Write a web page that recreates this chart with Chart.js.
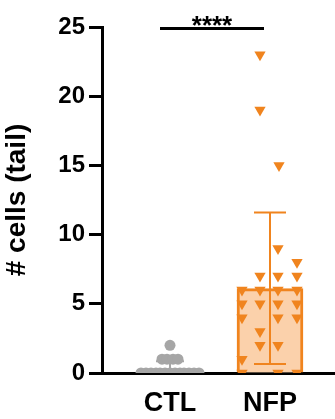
<!DOCTYPE html>
<html>
<head>
<meta charset="utf-8">
<script src="https://cdn.jsdelivr.net/npm/chart.js@4/dist/chart.umd.min.js"></script>
<style>
  html, body { margin: 0; padding: 0; background: #fff; }
  #wrap { width: 335px; height: 419px; position: relative; }
</style>
</head>
<body>
<div id="wrap"><canvas id="c"></canvas></div>
<script>
// ---- data ----
const categories = ['CTL', 'NFP'];
const barMeans = [0.2, 6.1];          // bar heights (mean)
const errLow = [0.2, 0.65];           // lower end of error bar
const errHigh = [0.85, 11.6];         // upper end of error bar (mean + SD)
const yTicks = [0, 5, 10, 15, 20, 25];

// individual observations
const ctlValues = [0,0,0,0,0,0,0,0,0,0,0,0,0, 1,1,1,1, 2];
const ctlJitter = [-0.29,-0.24,-0.19,-0.14,-0.1,-0.05,0,0.05,0.1,0.14,0.19,0.24,0.29, -0.08,-0.03,0.03,0.08, 0];

const nfpValues = [23, 19, 15, 9, 8, 7,7,7, 6,6,6,6, 5,5,5,5, 4,4,4, 3, 2,2, 1, 0,0,0];
const nfpJitter = [-0.1,-0.1,0.09,0.08,0.27, -0.1,0.08,0.27, -0.28,-0.1,0.08,0.27, -0.28,-0.1,0.08,0.27, -0.28,0.08,0.27, -0.1, -0.1,0.08, -0.28, -0.28,0.08,0.27];

const sigLabel = '****';
const sigFrom = 0.9, sigTo = 1.94, sigY = 24.9;

// ---- styles ----
const ORANGE = '#f0841e';
const ORANGE_FILL = '#fbd1ab';
const GRAY = '#a6a6a6';

const barData = barMeans.map((v, i) => ({ x: i + 1, y: v }));
const ctlPts = ctlValues.map((v, i) => ({ x: 1 + ctlJitter[i], y: v }));
const nfpPts = nfpValues.map((v, i) => ({ x: 2 + nfpJitter[i], y: v }));

const errorBarPlugin = {
  id: 'errbars',
  afterDatasetDraw(chart, args) {
    if (args.index !== 0) return;
    const ctx = chart.ctx, xs = chart.scales.x, ys = chart.scales.y;
    const colors = [GRAY, ORANGE];
    ctx.save();
    barMeans.forEach((m, i) => {
      const x = xs.getPixelForValue(i + 1);
      const yl = ys.getPixelForValue(errLow[i]);
      const yh = ys.getPixelForValue(errHigh[i]);
      const cap = i === 0 ? 14 : 16;
      ctx.strokeStyle = colors[i];
      ctx.lineWidth = 2;
      ctx.beginPath();
      ctx.moveTo(x, yl); ctx.lineTo(x, yh);
      ctx.moveTo(x - cap, yh); ctx.lineTo(x + cap, yh);
      if (i === 1) { ctx.moveTo(x - cap, yl); ctx.lineTo(x + cap, yl); }
      ctx.stroke();
    });
    ctx.restore();
  }
};

const sigPlugin = {
  id: 'sig',
  afterDraw(chart) {
    const ctx = chart.ctx, xs = chart.scales.x, ys = chart.scales.y;
    const x1 = xs.getPixelForValue(sigFrom), x2 = xs.getPixelForValue(sigTo);
    const y = ys.getPixelForValue(sigY);
    ctx.save();
    ctx.strokeStyle = '#000';
    ctx.lineWidth = 3;
    ctx.beginPath(); ctx.moveTo(x1, y); ctx.lineTo(x2, y); ctx.stroke();
    ctx.fillStyle = '#000';
    ctx.font = 'bold 26px "Liberation Sans", Arial, sans-serif';
    ctx.textAlign = 'center';
    ctx.textBaseline = 'alphabetic';
    ctx.fillText(sigLabel, (x1 + x2) / 2, y + 6);
    ctx.restore();
  }
};

new Chart(document.getElementById('c'), {
  data: {
    datasets: [
      {
        type: 'bar', data: barData, order: 2,
        backgroundColor: ['#b3b3b3', ORANGE_FILL],
        borderColor: [GRAY, ORANGE],
        borderWidth: 3, borderSkipped: 'bottom',
        barThickness: 66
      },
      {
        type: 'scatter', data: ctlPts, order: 1,
        pointStyle: 'circle', pointRadius: 5.5,
        backgroundColor: GRAY, borderColor: GRAY, borderWidth: 0
      },
      {
        type: 'scatter', data: nfpPts, order: 0,
        pointStyle: 'triangle', rotation: 180, pointRadius: 6.5,
        backgroundColor: ORANGE, borderColor: ORANGE, borderWidth: 0
      }
    ]
  },
  options: {
    responsive: true, maintainAspectRatio: false, animation: false,
    layout: { autoPadding: false, padding: { top: 27, right: 0, left: 0, bottom: 0 } },
    plugins: { legend: { display: false }, tooltip: { enabled: false } },
    scales: {
      x: {
        type: 'linear', position: 'bottom', min: 0.32, max: 2.65, offset: false,
        afterBuildTicks(s) { s.ticks = categories.map((c, i) => ({ value: i + 1 })); },
        afterFit(s) { s.height = 46; s.paddingLeft = 0; s.paddingRight = 0; },
        ticks: {
          callback: (v) => categories[v - 1] ?? '',
          color: '#000', padding: 14,
          font: { family: '"Liberation Sans", Arial, sans-serif', weight: 'bold', size: 27 },
          maxRotation: 0, autoSkip: false
        },
        grid: { display: false, drawTicks: false, offset: false },
        border: { display: true, width: 3, color: '#000' }
      },
      y: {
        min: 0, max: 25,
        afterBuildTicks(s) { s.ticks = yTicks.map(v => ({ value: v })); },
        afterFit(s) { s.width = 102; s.paddingTop = 0; s.paddingBottom = 0; },
        ticks: {
          color: '#000', padding: 4,
          font: { family: '"Liberation Sans", Arial, sans-serif', weight: 'bold', size: 24 }
        },
        grid: { drawOnChartArea: false, drawTicks: true, tickLength: 13, tickWidth: 3, color: '#000' },
        border: { display: true, width: 3, color: '#000' },
        title: {
          display: true, text: '# cells (tail)', color: '#000', padding: 0,
          font: { family: '"Liberation Sans", Arial, sans-serif', weight: 'bold', size: 28 }
        }
      }
    }
  },
  plugins: [errorBarPlugin, sigPlugin]
});
</script>
</body>
</html>
